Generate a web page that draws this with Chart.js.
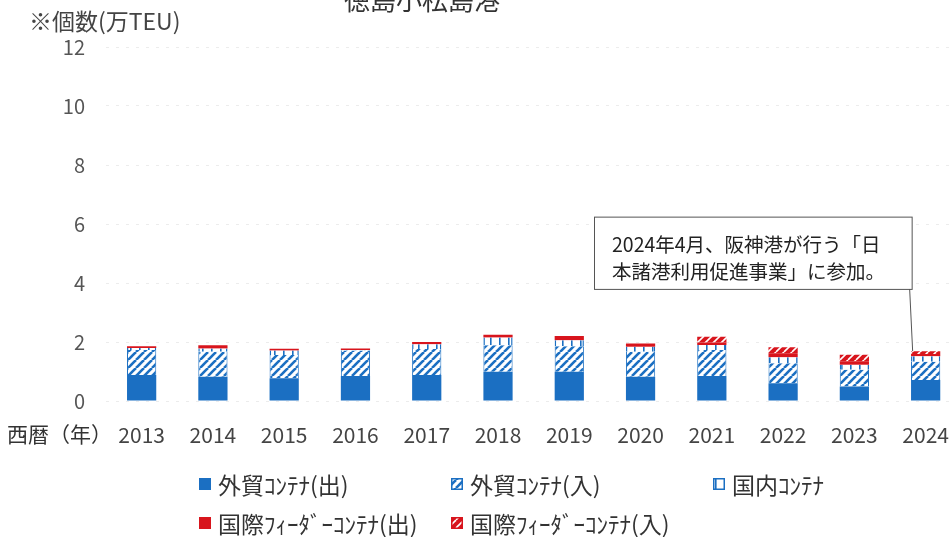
<!DOCTYPE html>
<html>
<head>
<meta charset="utf-8">
<script src="https://cdn.jsdelivr.net/npm/chart.js@4.4.1/dist/chart.umd.min.js"></script>
<style>
  html, body { margin: 0; padding: 0; background: #fff; overflow: hidden; }
  #wrap { width: 970px; height: 537px; }
  #chart { display: block; width: 970px; height: 537px; }
</style>
</head>
<body>
<div id="wrap"><canvas id="chart" width="970" height="537"></canvas></div>
<script>
// データ（万TEU）
const years = ['2013', '2014', '2015', '2016', '2017', '2018', '2019', '2020', '2021', '2022', '2023', '2024'];
const exportForeign = [0.88, 0.82, 0.77, 0.85, 0.88, 0.99, 0.99, 0.82, 0.85, 0.60, 0.49, 0.71];
const importForeign = [0.85, 0.85, 0.79, 0.86, 0.88, 0.90, 0.87, 0.85, 0.88, 0.68, 0.57, 0.62];
const domestic = [0.07, 0.11, 0.15, 0.02, 0.16, 0.26, 0.20, 0.17, 0.17, 0.20, 0.17, 0.19];
const feederOut = [0.06, 0.11, 0.06, 0.05, 0.08, 0.10, 0.14, 0.11, 0.08, 0.14, 0.12, 0.07];
const feederIn = [0, 0, 0, 0, 0, 0, 0, 0, 0.20, 0.20, 0.22, 0.10];
const yTicks = [0, 2, 4, 6, 8, 10, 12];

const seriesLabels = ['外貿ｺﾝﾃﾅ(出)', '外貿ｺﾝﾃﾅ(入)', '国内ｺﾝﾃﾅ', '国際ﾌｨｰﾀﾞｰｺﾝﾃﾅ(出)', '国際ﾌｨｰﾀﾞｰｺﾝﾃﾅ(入)'];
const titleText = '徳島小松島港';
const unitText = '※個数(万TEU)';
const xAxisName = '西暦（年）';
const noteLines = ['2024年4月、阪神港が行う「日', '本諸港利用促進事業」に参加。'];

const BLUE = '#1b6fc2';
const RED = '#d8151d';
const FONT = '"Noto Sans CJK JP", "Noto Sans", sans-serif';

// パターン
function hatch(lineColor, bgColor, width) {
  const c = document.createElement('canvas');
  c.width = 8; c.height = 8;
  const g = c.getContext('2d');
  g.fillStyle = bgColor;
  g.fillRect(0, 0, 8, 8);
  g.strokeStyle = lineColor;
  g.lineWidth = width;
  [-8, 0, 8].forEach((dx) => {
    g.beginPath();
    g.moveTo(dx, 8);
    g.lineTo(dx + 8, 0);
    g.stroke();
  });
  return g.createPattern(c, 'repeat');
}

function verticals(color) {
  const c = document.createElement('canvas');
  c.width = 9; c.height = 8;
  const g = c.getContext('2d');
  g.fillStyle = '#fff';
  g.fillRect(0, 0, 9, 8);
  g.fillStyle = color;
  g.fillRect(4, 0, 1.6, 8);
  return g.createPattern(c, 'repeat');
}

const blueHatch = hatch(BLUE, '#fff', 2.6);
const redHatch = hatch('#fff', RED, 1.6);
const domPattern = verticals(BLUE);

const fills = [BLUE, blueHatch, domPattern, RED, redHatch];

// タイトル・単位・注記・凡例
const decorations = {
  id: 'decorations',
  afterDatasetsDraw(chart) {
    const { ctx, scales: { x, y } } = chart;
    ctx.save();

    ctx.fillStyle = '#333';
    ctx.textAlign = 'center';
    ctx.textBaseline = 'alphabetic';
    ctx.font = '26px ' + FONT;
    ctx.fillText(titleText, 422, 10);

    ctx.textAlign = 'left';
    ctx.font = '23px ' + FONT;
    ctx.fillStyle = '#444';
    ctx.fillText(unitText, 29, 30);

    ctx.font = '21px ' + FONT;
    ctx.fillStyle = '#333';
    ctx.textBaseline = 'middle';
    ctx.fillText(xAxisName, 7, 434);

    // 注記ボックス
    const last = years.length - 1;
    const xs = x.getPixelForValue(last);
    const right = xs - 14;
    const left = 594;
    const top = y.getPixelForValue(6.25);
    const bottom = y.getPixelForValue(3.8);
    const total = exportForeign[last] + importForeign[last] + domestic[last] + feederOut[last] + feederIn[last];
    ctx.strokeStyle = '#555';
    ctx.lineWidth = 1;
    ctx.beginPath();
    ctx.moveTo(right - 2, bottom);
    ctx.lineTo(xs - 13, y.getPixelForValue(total));
    ctx.stroke();
    ctx.fillStyle = '#fff';
    ctx.fillRect(left, top, right - left, bottom - top);
    ctx.strokeRect(left + 0.5, top + 0.5, right - left, bottom - top);
    ctx.fillStyle = '#222';
    ctx.font = '19.5px ' + FONT;
    ctx.textBaseline = 'middle';
    noteLines.forEach((t, i) => ctx.fillText(t, 612, top + 28 + i * 27));

    // 凡例
    const items = [
      { x: 199, y: 484 }, { x: 451, y: 484 }, { x: 713, y: 484 },
      { x: 199, y: 523 }, { x: 451, y: 523 }
    ];
    ctx.font = '23px ' + FONT;
    items.forEach((it, i) => {
      const s = 12;
      const mx = it.x, my = it.y - s / 2;
      ctx.fillStyle = fills[i];
      ctx.fillRect(mx, my, s, s);
      if (i === 1 || i === 2) {
        ctx.strokeStyle = BLUE;
        ctx.lineWidth = 1.5;
        ctx.strokeRect(mx + 0.75, my + 0.75, s - 1.5, s - 1.5);
      }
      if (i === 4) {
        ctx.strokeStyle = RED;
        ctx.lineWidth = 1.5;
        ctx.strokeRect(mx + 0.75, my + 0.75, s - 1.5, s - 1.5);
      }
      ctx.fillStyle = '#333';
      ctx.fillText(seriesLabels[i], mx + s + 7, it.y + 1);
    });

    ctx.restore();
  }
};

const seriesData = [exportForeign, importForeign, domestic, feederOut, feederIn];
const borders = [
  { color: BLUE, width: 0 },
  { color: BLUE, width: { left: 1, right: 1, top: 0, bottom: 0 } },
  { color: BLUE, width: { left: 1.5, right: 1.5, top: 0, bottom: 0 } },
  { color: RED, width: 0 },
  { color: RED, width: 0 }
];

const chart = new Chart(document.getElementById('chart').getContext('2d'), {
  type: 'bar',
  data: {
    labels: years,
    datasets: seriesData.map((d, i) => ({
      label: seriesLabels[i],
      data: d,
      backgroundColor: fills[i],
      borderColor: borders[i].color,
      borderWidth: borders[i].width,
      borderSkipped: false,
      barPercentage: 0.82,
      categoryPercentage: 0.5
    }))
  },
  options: {
    responsive: false,
    animation: false,
    layout: { padding: { top: 47, right: 1, left: 0, bottom: 0 } },
    plugins: {
      legend: { display: false },
      tooltip: { enabled: false }
    },
    scales: {
      x: {
        stacked: true,
        grid: { display: false, drawTicks: false },
        border: { display: false },
        ticks: { color: '#444', font: { size: 21, family: FONT }, padding: 21, maxRotation: 0 },
        afterFit: (s) => { s.height = 136; }
      },
      y: {
        stacked: true,
        min: 0,
        max: 12,
        afterBuildTicks: (s) => { s.ticks = yTicks.map(v => ({ value: v })); },
        grid: { color: '#ececec', drawTicks: false, lineWidth: 1 },
        border: { display: false, dash: [3, 7] },
        ticks: { color: '#555', font: { size: 20, family: FONT }, padding: 21 },
        afterFit: (s) => { s.width = 106; }
      }
    }
  },
  plugins: [decorations]
});
</script>
</body>
</html>
